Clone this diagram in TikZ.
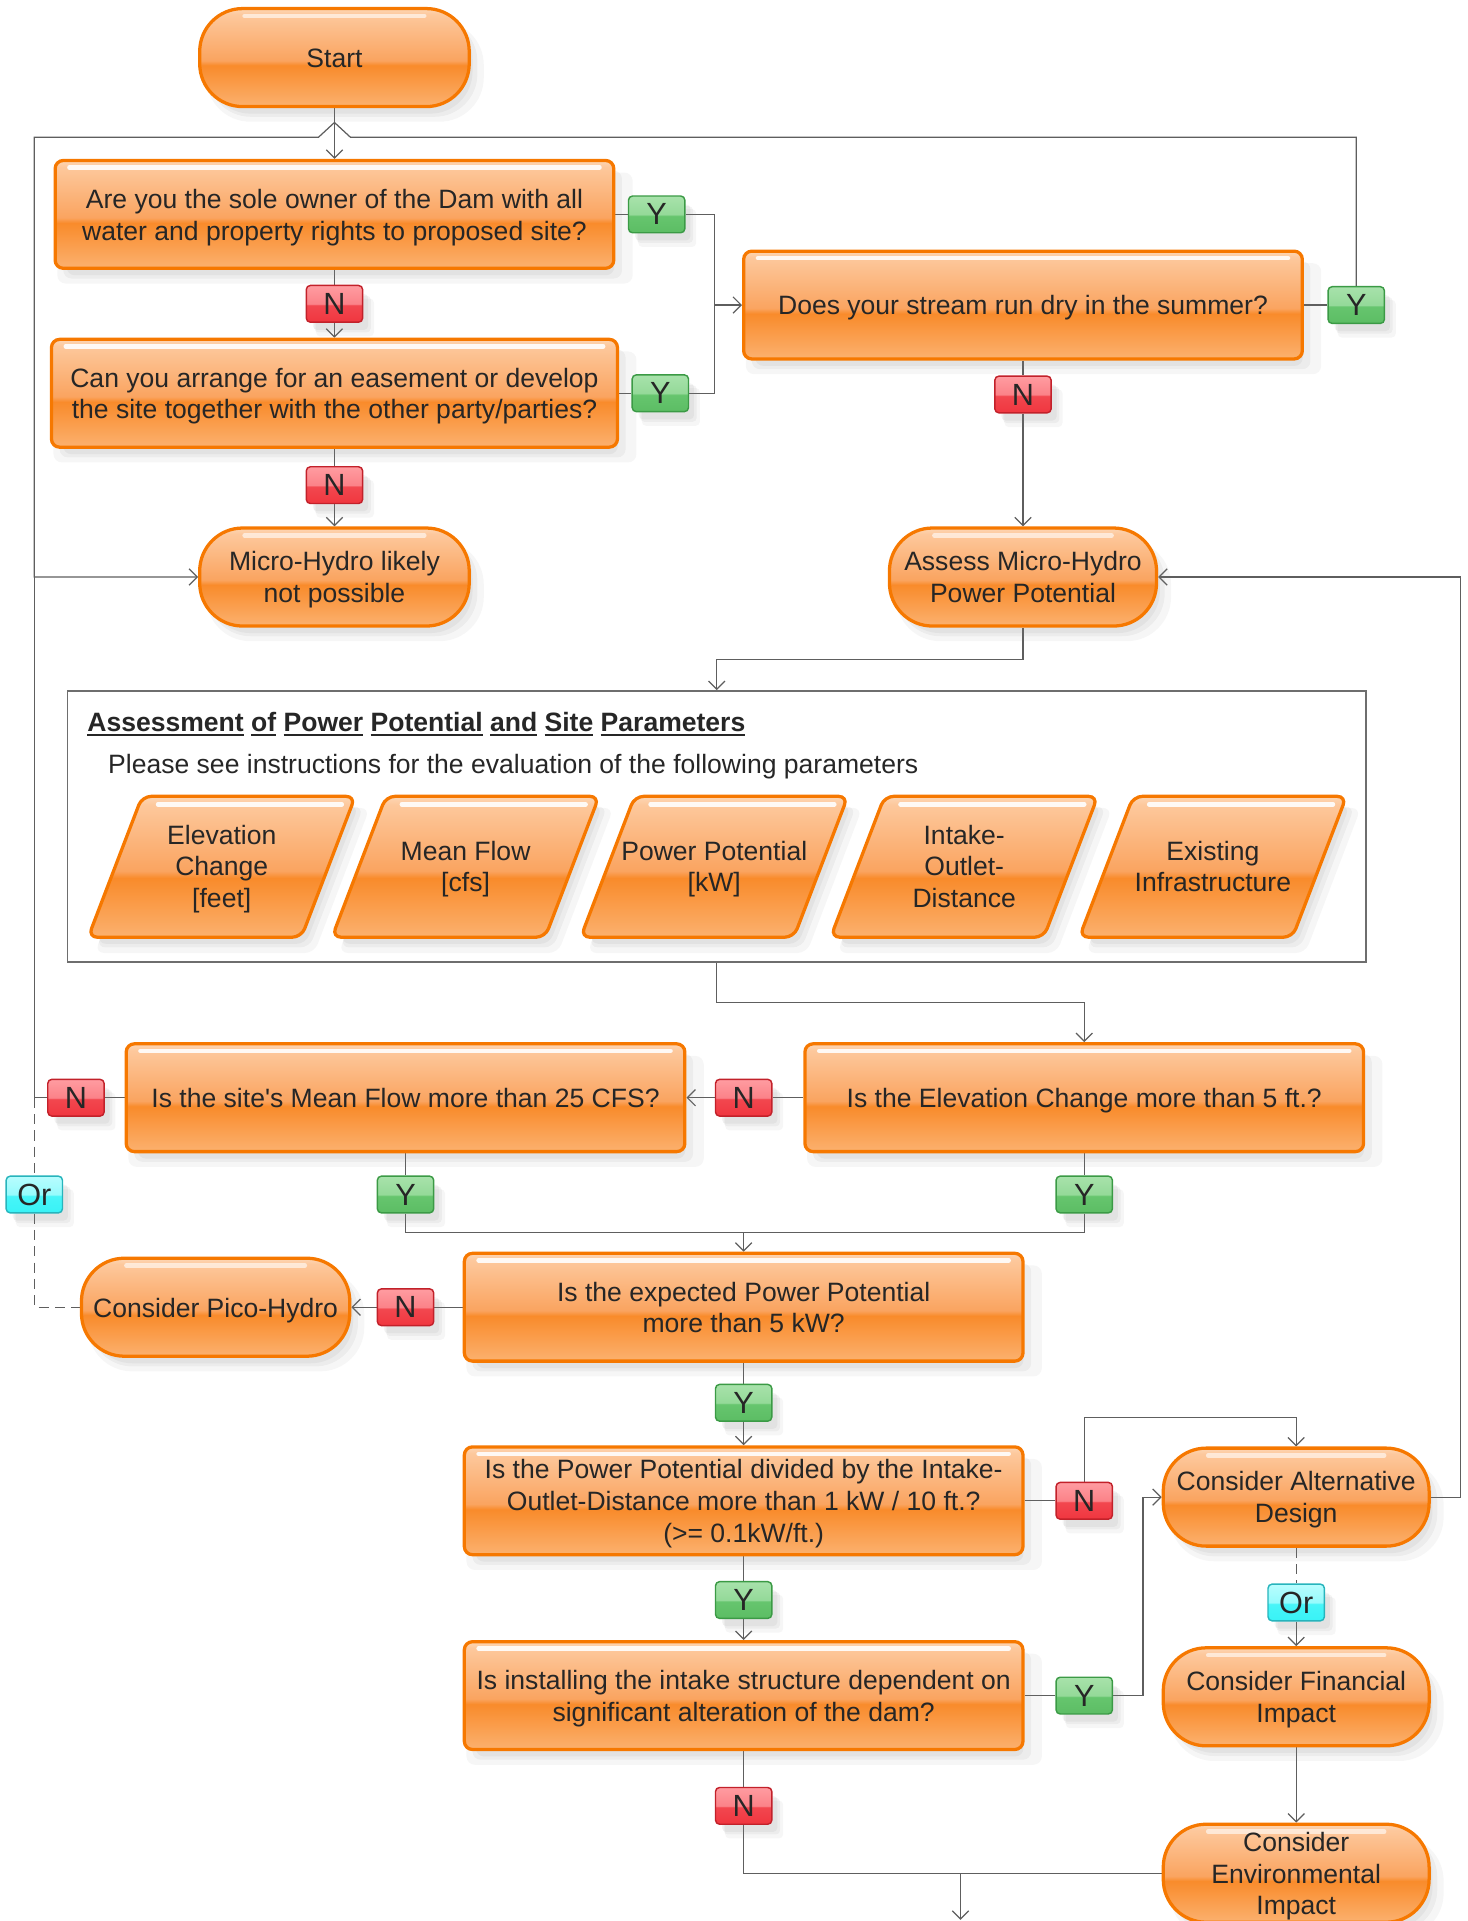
\documentclass[tikz,border=0pt]{standalone}
\usepackage{fontspec}
\setmainfont{Liberation Sans}
\newfontfamily\af{Liberation Sans}
\usetikzlibrary{shadows,arrows.meta}
\definecolor{obot}{HTML}{FBB16F}
\definecolor{omid}{HTML}{F98B2B}
\definecolor{oglb}{HTML}{FAA460}
\definecolor{oglt}{HTML}{FDC89C}
\definecolor{otop}{HTML}{FDD6B4}
\definecolor{oborder}{HTML}{F67800}
\definecolor{gbot}{HTML}{5CBD64}
\definecolor{gmid}{HTML}{66C56E}
\definecolor{gtop}{HTML}{A8E2AB}
\definecolor{gborder}{HTML}{3B9A45}
\definecolor{rbot}{HTML}{F0363F}
\definecolor{rmid}{HTML}{F2474F}
\definecolor{rtop}{HTML}{FF9CA1}
\definecolor{rborder}{HTML}{C2212A}
\definecolor{cbot}{HTML}{38F2F6}
\definecolor{cmid}{HTML}{48F5F8}
\definecolor{ctop}{HTML}{B8FDFE}
\definecolor{cborder}{HTML}{27B4BC}
\definecolor{txtcol}{HTML}{262626}
\definecolor{lncol}{HTML}{5E5E5E}
\pgfdeclareverticalshading{glossorange}{100bp}{color(0bp)=(obot); color(25bp)=(obot); color(46bp)=(omid); color(48.5bp)=(oglb); color(72bp)=(oglt); color(75bp)=(otop); color(100bp)=(otop)}
\pgfdeclareverticalshading{glossgreen}{100bp}{color(0bp)=(gbot); color(25bp)=(gbot); color(48bp)=(gmid); color(50bp)=(gtop!70!gmid); color(75bp)=(gtop); color(100bp)=(gtop)}
\pgfdeclareverticalshading{glossred}{100bp}{color(0bp)=(rbot); color(25bp)=(rbot); color(48bp)=(rmid); color(50bp)=(rtop!70!rmid); color(75bp)=(rtop); color(100bp)=(rtop)}
\pgfdeclareverticalshading{glosscyan}{100bp}{color(0bp)=(cbot); color(25bp)=(cbot); color(48bp)=(cmid); color(50bp)=(ctop!70!cmid); color(75bp)=(ctop); color(100bp)=(ctop)}
\pgfdeclarelayer{bg}
\pgfsetlayers{bg,main}
\newcommand\myul[1]{\setbox0\hbox{#1}\rlap{\rule[-2.2pt]{\wd0}{0.9pt}}\box0\relax}
\newcommand\mTS{\rule{0pt}{12.6pt}}
\newcommand\mBS{\rule[-3pt]{0pt}{3pt}}
\begin{document}
\begin{tikzpicture}[x=0.6pt,y=-0.6pt,
  >={Straight Barb[length=4pt,width=8pt]},
  txt/.style={font=\af\fontsize{13pt}{15.6pt}\selectfont, text=txtcol},
  softshadow/.style={
    drop shadow={shadow xshift=5pt,shadow yshift=-6.5pt,opacity=.07,shadow scale=1.03},
    drop shadow={shadow xshift=4pt,shadow yshift=-5pt,opacity=.09},
    drop shadow={shadow xshift=3pt,shadow yshift=-4pt,opacity=.09,shadow scale=.98}},
  qbox/.style={txt, rectangle, rounded corners=4pt, draw=oborder, line width=1.6pt,
    shading=glossorange, softshadow, minimum width=273.6pt, minimum height=52.8pt,
    inner sep=0pt, align=center,
    path picture={\draw[white,line width=2.2pt,line cap=round,opacity=.9]
      ([xshift=7pt,yshift=-3.4pt]path picture bounding box.north west) --
      ([xshift=-7pt,yshift=-3.4pt]path picture bounding box.north east);}},
  stad/.style={txt, rectangle, rounded corners=21pt, draw=oborder, line width=1.6pt,
    shading=glossorange, softshadow, minimum width=132pt, minimum height=48pt,
    inner sep=0pt, align=center,
    path picture={\draw[white,line width=2.2pt,line cap=round,opacity=.6]
      ([xshift=22pt,yshift=-3.6pt]path picture bounding box.north west) --
      ([xshift=-22pt,yshift=-3.6pt]path picture bounding box.north east);}},
  lab/.style={font=\af\fontsize{15pt}{15pt}\selectfont, text=txtcol, rectangle,
    rounded corners=2pt, line width=0.7pt, minimum width=27.6pt, minimum height=18pt,
    inner sep=0pt, softshadow},
  yl/.style={lab, draw=gborder, shading=glossgreen},
  nl/.style={lab, draw=rborder, shading=glossred},
  orl/.style={lab, draw=cborder, shading=glosscyan},
  pshape/.style={draw=oborder, line width=1.6pt, rounded corners=4.5pt,
    shading=glossorange, softshadow},
  ptext/.style={txt, align=center, inner sep=0pt},
  ln/.style={draw=lncol, line width=0.6pt},
  dsh/.style={dash pattern=on 5pt off 3pt}
]
\useasboundingbox (0,0) rectangle (1198,1568);

% container
\node[draw=lncol!90, line width=0.8pt, minimum width=636pt, minimum height=132.6pt, inner sep=0pt] (cont) at (585,674.5) {};
\node[txt, font=\af\bfseries\fontsize{13pt}{15.6pt}\selectfont, anchor=base west, inner sep=0pt] (ttl) at (71,597)
  {\myul{Assessment} \myul{of} \myul{Power} \myul{Potential} \myul{and} \myul{Site} \myul{Parameters}};
\node[txt, anchor=base west, inner sep=0pt] (sub) at (88,631)
  {Please see instructions for the evaluation of the following parameters};

\newcommand\mypara[1]{%
  \path[pshape] ({#1-109},765) -- ({#1+65},765) -- ({#1+109},650) -- ({#1-65},650) -- cycle;
  \draw[white,line width=2.2pt,line cap=round,opacity=.9] ({#1-52},656.5) -- ({#1+98},656.5);}
\mypara{181}\mypara{380}\mypara{583}\mypara{787}\mypara{990}
\node[ptext] (p1) at (181,707) {\mTS Elevation\\Change\\{}[feet]\mBS};
\node[ptext] (p2) at (380,707) {\mTS Mean Flow\\{}[cfs]\mBS};
\node[ptext] (p3) at (583,707) {\mTS Power Potential\\{}[kW]\mBS};
\node[ptext] (p4) at (787,707) {\mTS Intake-\\Outlet-\\Distance\mBS};
\node[ptext] (p5) at (990,707) {\mTS Existing\\Infrastructure\mBS};

% main nodes
\node[stad] (start) at (273,47) {\mTS Start\mBS};
\node[qbox] (q1) at (273,175) {\mTS Are you the sole owner of the Dam with all\\water and property rights to proposed site?\mBS};
\node[yl] (y1) at (536,175) {Y};
\node[nl] (n1) at (273,248) {N};
\node[qbox, minimum width=277.2pt] (q2) at (273,321) {\mTS Can you arrange for an easement or develop\\the site together with the other party/parties?\mBS};
\node[yl] (y2) at (539,321) {Y};
\node[nl] (n2) at (273,396) {N};
\node[stad] (nopos) at (273,471) {\mTS Micro-Hydro likely\\not possible\mBS};
\node[qbox] (stream) at (835,249) {\mTS Does your stream run dry in the summer?\mBS};
\node[yl] (y3) at (1107,249) {Y};
\node[nl] (n3) at (835,322) {N};
\node[stad, minimum width=130.8pt] (assess) at (835,471) {\mTS Assess Micro-Hydro\\Power Potential\mBS};

\node[qbox] (elev) at (885,896) {\mTS Is the Elevation Change more than 5 ft.?\mBS};
\node[nl] (n4) at (607,896) {N};
\node[qbox] (flow) at (331,896) {\mTS Is the site\char"0027{}s Mean Flow more than 25 CFS?\mBS};
\node[nl] (n5) at (62,896) {N};
\node[yl] (y5) at (331,975) {Y};
\node[yl] (y4) at (885,975) {Y};
\node[orl] (or1) at (28,975) {Or};
\node[qbox] (power) at (607,1067) {\mTS Is the expected Power Potential\\more than 5 kW?\mBS};
\node[nl] (n6) at (331,1067) {N};
\node[stad, minimum width=131.4pt] (pico) at (176,1067) {\mTS Consider Pico-Hydro\mBS};
\node[yl] (y6) at (607,1145) {Y};
\node[qbox] (ratio) at (607,1225) {\mTS Is the Power Potential divided by the Intake-\\Outlet-Distance more than 1 kW / 10 ft.?\\(>= 0.1kW/ft.)\mBS};
\node[nl] (n7) at (885,1225) {N};
\node[stad, minimum width=130.2pt] (alt) at (1058,1222) {\mTS Consider Alternative\\Design\mBS};
\node[orl] (or2) at (1058,1308) {Or};
\node[yl] (y7) at (607,1306) {Y};
\node[qbox] (install) at (607,1384) {\mTS Is installing the intake structure dependent on\\significant alteration of the dam?\mBS};
\node[yl] (y8) at (885,1384) {Y};
\node[stad, minimum width=130.2pt] (fin) at (1058,1385) {\mTS Consider Financial\\Impact\mBS};
\node[nl] (n8) at (607,1474) {N};
\node[stad, minimum width=130.2pt] (env) at (1058,1529) {\mTS Consider\\Environmental\\Impact\mBS};

\begin{pgfonlayer}{bg}
\coordinate (j1) at (583,249);
\coordinate (tr) at (1107,112);
\coordinate (hr) at (286,112);
\coordinate (hp) at (273,100);
\coordinate (hl) at (260,112);
\coordinate (tl) at (28,112);
\coordinate (ml) at (28,471);
\coordinate (jn) at (28,896);
\coordinate (rx) at (1192,471);
\coordinate (a1) at (835,538);
\coordinate (c1) at (585,818);
\coordinate (m1) at (607,1006);
\coordinate (t1) at (885,1157);
\coordinate (l1) at (933,1384);
\coordinate (b1) at (607,1529);
\coordinate (b2) at (784,1529);
\coordinate (b3) at (784,1567);

\draw[ln,->] (start) -- (q1);
\draw[ln] (q1) -- (y1);
\draw[ln] (q1) -- (n1);
\draw[ln,->] (n1) -- (q2);
\draw[ln] (q2) -- (y2);
\draw[ln] (q2) -- (n2);
\draw[ln,->] (n2) -- (nopos);
\draw[ln,->] (y1.east) -| (j1) -- (stream.west);
\draw[ln] (y2.east) -| (j1);
\draw[ln] (stream) -- (y3);
\draw[ln,->] (y3.north) -- (tr) -- (hr) -- (hp) -- (hl) -- (tl) -- (ml) -- (nopos.west);
\draw[ln] (flow) -- (n5);
\draw[ln] (n5.west) -- (jn) -- (ml);
\draw[ln,dsh] (jn) -- (or1.north);
\draw[ln,dsh] (or1.south) |- (pico.west);
\draw[ln] (stream) -- (n3);
\draw[ln,->] (n3) -- (assess);
\draw[ln,->] (alt.east) -| (rx) -- (assess.east);
\draw[ln,->] (assess.south) -- (a1) -| (cont.north);
\draw[ln,->] (cont.south) -- (c1) -| (elev.north);
\draw[ln] (elev) -- (n4);
\draw[ln,->] (n4) -- (flow);
\draw[ln] (flow) -- (y5);
\draw[ln] (elev) -- (y4);
\draw[ln,->] (y5.south) |- (m1) -- (power.north);
\draw[ln] (y4.south) |- (m1);
\draw[ln] (power) -- (n6);
\draw[ln,->] (n6) -- (pico);
\draw[ln] (power) -- (y6);
\draw[ln,->] (y6) -- (ratio);
\draw[ln] (ratio) -- (n7);
\draw[ln,->] (n7.north) -- (t1) -| (alt.north);
\draw[ln] (ratio) -- (y7);
\draw[ln,->] (y7) -- (install);
\draw[ln] (install) -- (y8);
\draw[ln,->] (y8.east) -- (l1) |- (alt.west);
\draw[ln,dsh] (alt) -- (or2);
\draw[ln,->] (or2) -- (fin);
\draw[ln,->] (fin) -- (env);
\draw[ln] (install) -- (n8);
\draw[ln] (n8.south) -- (b1) -- (b2);
\draw[ln] (env.west) -- (b2);
\draw[ln,->] (b2) -- (b3);
\end{pgfonlayer}
\end{tikzpicture}
\end{document}
